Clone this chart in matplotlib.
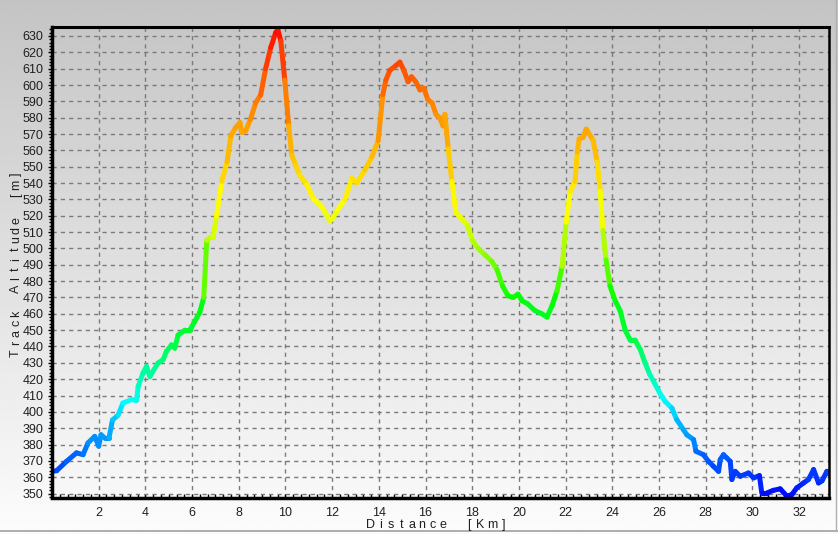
import colorsys
import numpy as np
import matplotlib
matplotlib.use("Agg")
import matplotlib.pyplot as plt
from matplotlib.collections import LineCollection
from matplotlib.ticker import MultipleLocator

# ---------------- data ----------------
dist_km = [0.0, 0.2, 0.62, 1.05, 1.33, 1.54, 1.83, 2.0, 2.1, 2.26, 2.44, 2.59, 2.83, 3.04, 3.4,
           3.62, 3.69, 3.9, 4.05, 4.19, 4.54, 4.76, 4.9, 5.12, 5.26, 5.4, 5.69, 5.9, 6.1, 6.33,
           6.5, 6.63, 6.8, 6.9, 7.05, 7.27, 7.5, 7.66, 7.87, 8.05, 8.13, 8.3, 8.5, 8.72, 8.94,
           9.15, 9.37, 9.58, 9.67, 9.8, 9.97, 10.14, 10.27, 10.44, 10.6, 10.92, 11.2, 11.47,
           11.7, 11.9, 12.0, 12.25, 12.55, 12.84, 13.05, 13.4, 13.7, 13.97, 14.17, 14.3, 14.47,
           14.74, 14.9, 15.07, 15.25, 15.4, 15.58, 15.76, 15.93, 16.1, 16.28, 16.45, 16.6,
           16.75, 16.83, 16.97, 17.13, 17.3, 17.56, 17.8, 18.0, 18.25, 18.55, 18.84, 19.06,
           19.3, 19.53, 19.75, 19.96, 20.13, 20.38, 20.68, 20.98, 21.2, 21.42, 21.63, 21.85,
           22.02, 22.2, 22.4, 22.5, 22.58, 22.75, 22.88, 22.97, 23.18, 23.35, 23.48, 23.6,
           23.73, 23.9, 24.12, 24.33, 24.55, 24.76, 24.97, 25.2, 25.4, 25.6, 25.83, 26.05,
           26.26, 26.55, 26.76, 27.05, 27.19, 27.48, 27.58, 27.9, 28.12, 28.33, 28.55, 28.62,
           28.76, 28.9, 29.05, 29.12, 29.26, 29.48, 29.83, 30.05, 30.3, 30.4, 30.62, 30.9,
           31.19, 31.48, 31.69, 31.9, 32.19, 32.4, 32.62, 32.83, 32.98, 33.19, 33.28]

altitude_m = [363.6, 364, 369.7, 374.9, 373.8, 381, 385, 379, 386, 384, 384, 395, 398, 405.4,
              407.5, 407, 415.6, 423.8, 427.8, 421.7, 429.9, 432, 437, 441, 439, 447, 450, 450,
              455, 461, 470, 505, 507, 507, 520, 541, 553, 569, 574, 577, 571, 572, 579, 589,
              594, 610, 623, 632, 634, 627, 603, 575, 557, 551, 545, 539, 530, 527, 522, 517,
              518, 524, 530, 543, 540, 548, 556, 566, 594, 603, 609, 612, 614, 609, 602, 605,
              602, 597, 598, 591, 589, 582, 580, 575, 582, 561, 541, 522, 518, 514, 505, 500,
              496, 492, 487, 477, 471, 470, 472, 468, 466, 462, 460, 458, 465, 474, 489, 516,
              535, 541, 559, 567, 568, 573, 571, 566, 553, 535, 511, 493, 477, 468, 462, 450,
              444, 444, 438, 430, 423, 417, 411, 406.4, 402.3, 395.2, 389, 386, 383, 375.9,
              373.8, 369.7, 366.7, 363.6, 370.8, 373.8, 371.8, 369.7, 358.6, 363.6, 360.6,
              362.6, 359.6, 361, 350.4, 350.4, 352, 352.9, 348.4, 349.4, 353.5, 356.5, 358.6,
              364.7, 356.5, 357.8, 363.6, 362]

x_ticks = list(range(2, 33, 2))
y_ticks = list(range(350, 631, 10))
x_label_words = ["Distance", "[Km]"]
y_label_words = ["Track", "Altitude", "[m]"]

# altitude -> hue anchors for the line colouring
hue_alt = [348, 363, 375, 385, 395, 405, 430, 447, 465, 481, 499, 516, 535, 553, 575, 612, 636]
hue_deg = [240, 225, 215, 203, 195, 182, 150, 132, 125, 105, 82, 66, 57, 47, 38, 17, 0]

# ---------------- figure ----------------
W, H, DPI = 838, 534, 100
fig = plt.figure(figsize=(W / DPI, H / DPI), dpi=DPI)

# background gradient
bg = fig.add_axes([0, 0, 1, 1], zorder=-10)
grad = np.linspace(196, 252, 256)[:, None] / 255.0
bg.imshow(np.repeat(grad, 2, axis=1), cmap="gray", vmin=0, vmax=1, aspect="auto",
          extent=[0, 1, 0, 1], origin="upper")
bg.set_xlim(0, 1)
bg.set_ylim(0, 1)
bg.axis("off")
# window borders
bg.plot([0, 1], [1 - 531 / H, 1 - 531 / H], color="#a0a0a0", lw=1.2)
bg.plot([836 / W, 836 / W], [1 - 531 / H, 1], color="#b0b0b0", lw=1.0)

left, right, top, bottom = 52 / W, 829 / W, 26.5 / H, 497.5 / H
ax = fig.add_axes([left, 1 - bottom, right - left, bottom - top])
ax.set_facecolor("none")

x = np.asarray(dist_km, dtype=float)
y = np.asarray(altitude_m, dtype=float)
pts = np.column_stack([x, y]).reshape(-1, 1, 2)
segs = np.concatenate([pts[:-1], pts[1:]], axis=1)
mid = 0.5 * (y[:-1] + y[1:])
hues = np.interp(mid, hue_alt, hue_deg) / 360.0
cols = [colorsys.hsv_to_rgb(h, 1.0, 1.0) for h in hues]
lc = LineCollection(segs, colors=cols, linewidths=3.6, capstyle="round", joinstyle="round",
                    zorder=3)
ax.add_collection(lc)

ax.set_xlim(0, 33.28)
ax.set_ylim(347.6, 635.8)

ax.set_xticks(x_ticks)
ax.set_yticks(y_ticks)
ax.xaxis.set_minor_locator(MultipleLocator(1 / 3))
ax.yaxis.set_minor_locator(MultipleLocator(2))

ax.grid(True, which="major", color="#7a7a7a", linestyle=(0, (3, 3)), linewidth=1.0, zorder=1)

ax.tick_params(axis="x", which="both", direction="in", length=3, width=1, color="black",
               labelsize=9, pad=7, labelcolor="#202020")
ax.tick_params(axis="y", which="major", direction="out", length=3, width=1, labelsize=9,
               pad=3, labelcolor="#202020")
ax.tick_params(axis="y", which="minor", direction="out", length=2, width=1)

for lab in ax.get_xticklabels() + ax.get_yticklabels():
    lab.set_fontfamily("Liberation Sans")

ax.spines["left"].set_linewidth(2.5)
ax.spines["bottom"].set_linewidth(2.5)
ax.spines["top"].set_linewidth(2.2)
ax.spines["right"].set_linewidth(1.8)
for s in ax.spines.values():
    s.set_color("black")
    s.set_zorder(4)


def spaced_label(words, pitches, start, fixed, gap, vertical=False):
    """Letter-spaced label, each glyph placed as real text (pixel coords)."""
    pos = start
    step = -1 if vertical else 1
    for wi, (word, pitch) in enumerate(zip(words, pitches)):
        if wi > 0:
            pos += step * gap
        for ci, ch in enumerate(word):
            if ci > 0:
                pos += step * pitch
            if vertical:
                fig.text(fixed / W, 1 - pos / H, ch, ha="center", va="center", rotation=90,
                         fontsize=9, family="Liberation Sans", color="#202020")
            else:
                fig.text(pos / W, 1 - fixed / H, ch, ha="center", va="center",
                         fontsize=9, family="Liberation Sans", color="#202020")


spaced_label(x_label_words, [10.4, 11.5], 370, 525, 26, vertical=False)
spaced_label(y_label_words, [9.9, 9.7, 10.5], 353, 16, 25, vertical=True)

fig.savefig("out.png", dpi=DPI)
